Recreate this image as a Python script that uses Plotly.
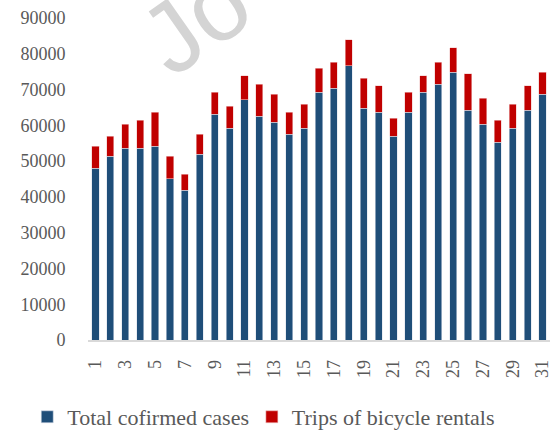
import plotly.graph_objects as go

days = [str(d) for d in range(1, 32)]

confirmed = [47950, 51300, 53600, 53600, 54200, 45100, 41800, 51900, 63100, 59200,
             67100, 62600, 60900, 57500, 59200, 69300, 70400, 76600, 64800, 63700,
             56900, 63700, 69300, 71500, 74900, 64200, 60300, 55300, 59200, 64200,
             68700]
totals = [54200, 57000, 60300, 61400, 63700, 51300, 46300, 57500, 69300, 65400,
          73800, 71500, 68700, 63700, 65900, 76000, 77700, 83900, 73200, 71000,
          62000, 69300, 73800, 77700, 81700, 74400, 67600, 61400, 65900, 71000,
          74900]
trips = [t - c for t, c in zip(totals, confirmed)]

y_ticks = list(range(0, 90001, 10000))

fig = go.Figure()
fig.add_bar(x=days, y=confirmed, name="Total cofirmed cases", legend="legend",
            marker=dict(color="#1F4E79", line=dict(color="rgba(220,225,235,0.8)", width=0.7)))
fig.add_bar(x=days, y=trips, name="Trips of bicycle rentals", legend="legend2",
            marker=dict(color="#C00000", line=dict(color="rgba(240,200,200,0.8)", width=0.7)))

# faint watermark at top
fig.add_annotation(text="Jo", xref="paper", yref="paper", x=0.232, y=0.994,
                   xanchor="center", yanchor="middle",
                   showarrow=False, textangle=-35,
                   font=dict(family="Liberation Sans", size=100, color="#d4d4d4"))

leg = dict(orientation="h", xref="container", yref="container", xanchor="left",
           y=0.037, yanchor="middle", font=dict(size=22), itemwidth=30,
           bgcolor="rgba(0,0,0,0)")

fig.update_layout(
    barmode="stack", bargap=0.52,
    width=556, height=433,
    margin=dict(l=88, r=6, t=18, b=93, autoexpand=False),
    plot_bgcolor="white", paper_bgcolor="white",
    font=dict(family="Liberation Serif", color="#595959", size=20),
    showlegend=True,
    legend=dict(leg, x=0.049),
    legend2=dict(leg, x=0.453),
)
fig.update_xaxes(type="category", tickangle=-90, dtick=2, tickfont=dict(size=18),
                 showline=True, linecolor="#d9d9d9", linewidth=1.5,
                 ticks="outside", ticklen=11, tickcolor="rgba(0,0,0,0)", automargin=False)
fig.update_yaxes(range=[0, 90000], tickvals=y_ticks, tickformat="d", showgrid=False,
                 zeroline=False, showline=False, tickfont=dict(size=18),
                 ticks="outside", ticklen=18, tickcolor="rgba(0,0,0,0)", automargin=False)

fig.write_html("out.html", config={"displayModeBar": False},
               post_script="document.body.style.margin='0';")
